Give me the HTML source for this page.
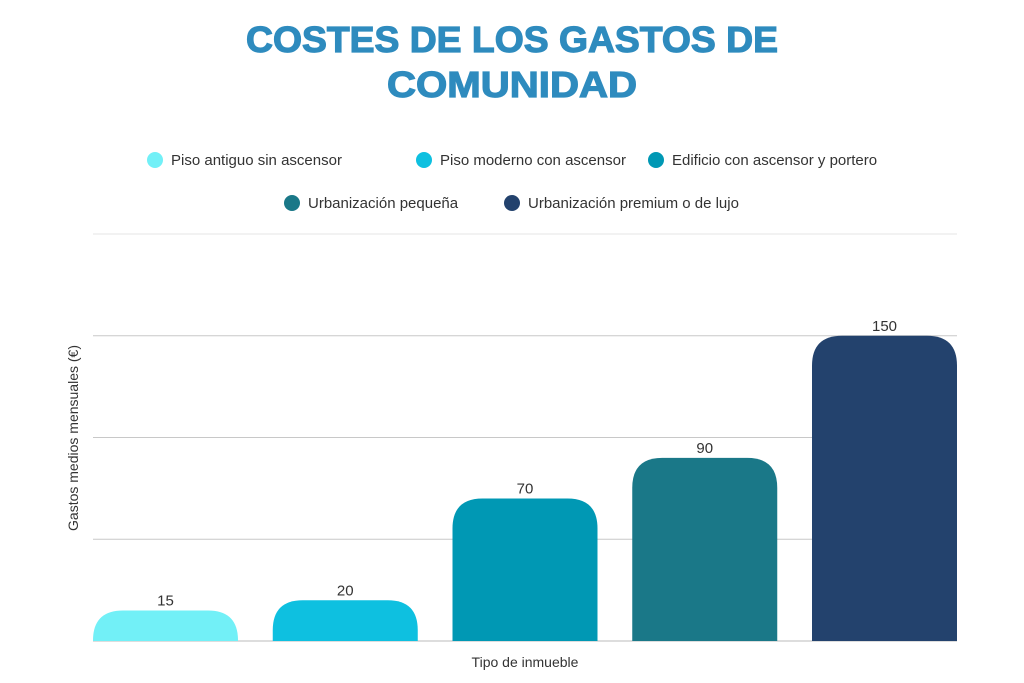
<!DOCTYPE html>
<html><head><meta charset="utf-8"><style>
html,body{margin:0;padding:0;background:#fff;}
svg{display:block;font-family:"Liberation Sans",sans-serif;}
</style></head><body>
<svg id="chart" width="1024" height="683" viewBox="0 0 1024 683" xmlns="http://www.w3.org/2000/svg">
<g fill="#2E8BBE" font-weight="bold" font-size="36">
<text x="512" y="52" text-anchor="middle" textLength="532" lengthAdjust="spacingAndGlyphs" stroke="#2E8BBE" stroke-width="1.2">COSTES DE LOS GASTOS DE</text>
<text x="512" y="97" text-anchor="middle" textLength="250" lengthAdjust="spacingAndGlyphs" stroke="#2E8BBE" stroke-width="1.2">COMUNIDAD</text>
</g>
<g id="legend"></g>
<g id="grid"></g>
<g id="bars"></g>
<text transform="translate(78,438) rotate(-90)" text-anchor="middle" font-size="14" fill="#333">Gastos medios mensuales (€)</text>
<text x="525" y="667" text-anchor="middle" font-size="14" fill="#333">Tipo de inmueble</text>
</svg>
<script>
const categories=["Piso antiguo sin ascensor","Piso moderno con ascensor","Edificio con ascensor y portero","Urbanización pequeña","Urbanización premium o de lujo"];
const values=[15,20,70,90,150];
const gridTicks=[0,50,100,150,200];
const colors=["#72F0F7","#0EC0E0","#0098B4","#1A7888","#23426D"];
const NS="http://www.w3.org/2000/svg";
const x0=93,x1=957,y0=641,yMax=200,yTop=234;
const y=v=>y0-(v/yMax)*(y0-yTop);
const step=(x1-x0-145)/(categories.length-1);
const bw=145;
function mk(t,a){const e=document.createElementNS(NS,t);for(const k in a)e.setAttribute(k,a[k]);return e;}
const grid=document.getElementById('grid');
gridTicks.forEach(t=>{if(t===0)return;const l=mk('line',{x1:x0,x2:x1,y1:y(t),y2:y(t),stroke:t===yMax?'#e4e4e4':'#c8c8c8','stroke-width':1});


grid.appendChild(l);});
const bars=document.getElementById('bars');
values.forEach((v,i)=>{const bx=x0+i*step,top=y(v),h=y0-top,r=Math.min(30,h);
const p=mk('path',{d:`M${bx},${y0}V${top+r}Q${bx},${top} ${bx+r},${top}H${bx+bw-r}Q${bx+bw},${top} ${bx+bw},${top+r}V${y0}Z`,fill:colors[i]});


bars.appendChild(p);
const t=mk('text',{x:bx+bw/2,y:top-5,'text-anchor':'middle','font-size':15,fill:'#333'});t.textContent=v;


bars.appendChild(t);});
const base=mk('line',{x1:x0,x2:x1,y1:y0,y2:y0,stroke:'#bbb'});


grid.appendChild(base);
const leg=document.getElementById('legend');
const legPos=[[155,160],[424,160],[656,160],[292,203],[512,203]];
categories.forEach((c,i)=>{const g=mk('g',{});


const [lx,ly]=legPos[i];
g.appendChild(mk('circle',{cx:lx,cy:ly,r:8,fill:colors[i]}));
const t=mk('text',{x:lx+16,y:ly+5,'font-size':15,fill:'#333'});t.textContent=c;g.appendChild(t);leg.appendChild(g);});
</script>
</body></html>
